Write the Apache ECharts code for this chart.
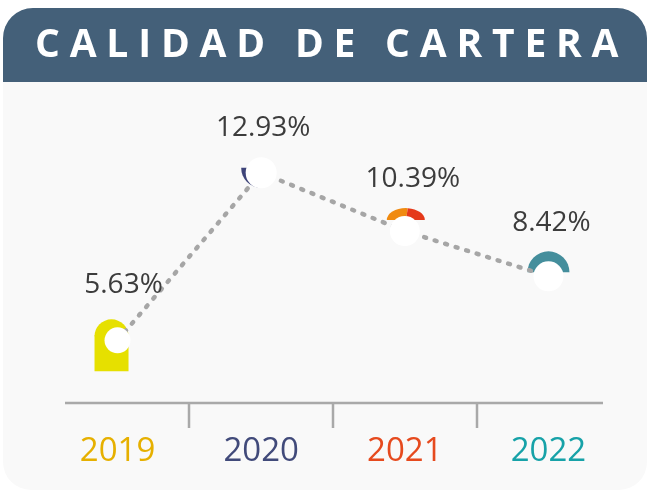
<!DOCTYPE html>
<html>
<head>
<meta charset="utf-8">
<script src="https://cdn.jsdelivr.net/npm/echarts@6/dist/echarts.min.js"></script>
<style>
  html, body { margin: 0; padding: 0; background: #ffffff; }
  #wrap { position: relative; width: 648px; height: 491px; }
  #main { position: absolute; left: 0; top: 0; width: 648px; height: 491px; }
  #title {
    position: absolute; left: 35px; top: 22px; z-index: 2;
    font-family: 'Open Sans', sans-serif; font-weight: 700; font-size: 39px;
    line-height: 39px; letter-spacing: 9.8px; color: #ffffff; white-space: nowrap;
  }
</style>
</head>
<body>
<div id="wrap">
  <div id="main"></div>
  <div id="title">CALIDAD DE CARTERA</div>
</div>
<script>
// datos
var categories = ['2019', '2020', '2021', '2022'];
var values = [5.63, 12.93, 10.39, 8.42];
var yMin = 2.9, yMax = 16.1;

// estilos
var yearColors = ['#e6b000', '#414a7a', '#e64a1e', '#17a2a8'];
var markerSizes = [26, 31, 30, 30];
var labelOffsets = [[6, -28], [2, -15], [8, -23], [3, -24]];

var myChart = echarts.init(document.getElementById('main'));

// formas de color detras de cada punto
function renderDeco(params, api) {
	var i = params.dataIndex;
	var p = api.coord([api.value(0), api.value(1)]);
	var x = p[0], y = p[1];
	var PI = Math.PI;
	if (i === 0) {
		return {
			type: 'group',
			children: [
				{ type: 'rect', shape: { x: x - 23, y: y - 5, width: 34, height: 36 }, style: { fill: '#e6e000' } },
				{ type: 'sector', shape: { cx: x - 6, cy: y - 4, r: 17, startAngle: PI, endAngle: 2 * PI }, style: { fill: '#e6e000' } }
			]
		};
	}
	if (i === 1) {
		return { type: 'sector', shape: { cx: x, cy: y - 5, r: 20, startAngle: PI / 2, endAngle: PI }, style: { fill: '#3e4479' } };
	}
	if (i === 2) {
		var split = 2 * PI - Math.acos(2 / 19);
		return {
			type: 'group',
			x: x + 1, y: y - 11, scaleY: 12 / 19,
			children: [
				{ type: 'sector', shape: { cx: 0, cy: 0, r: 19, startAngle: PI, endAngle: split }, style: { fill: '#f08a10' } },
				{ type: 'sector', shape: { cx: 0, cy: 0, r: 19, startAngle: split, endAngle: 2 * PI }, style: { fill: '#e5391a' } }
			]
		};
	}
	return { type: 'sector', shape: { cx: x, cy: y - 4, r: 21, startAngle: PI, endAngle: 2 * PI }, style: { fill: '#448e9c' } };
}

var option = {
	animation: false,
	grid: { left: 45.7, right: 27.7, top: 100, bottom: 88 },
	graphic: [
		{ type: 'rect', z: -10, shape: { x: 3, y: 82, width: 644, height: 408, r: [0, 0, 28, 28] }, style: { fill: '#f9f9f9' } },
		{ type: 'rect', z: -10, shape: { x: 3, y: 8, width: 644, height: 74, r: [30, 30, 0, 0] }, style: { fill: '#446079' } }
	],
	xAxis: {
		type: 'category',
		data: categories,
		boundaryGap: true,
		axisLine: { show: false },
		axisTick: { show: false },
		axisLabel: {
			margin: 32,
			fontSize: 33,
			fontFamily: 'Open Sans',
			color: function (val, idx) { return yearColors[idx]; }
		}
	},
	yAxis: {
		type: 'value',
		min: yMin,
		max: yMax,
		show: false,
		splitLine: { show: false }
	},
	series: [
		{
			type: 'custom',
			z: 1,
			silent: true,
			renderItem: renderDeco,
			data: values.map(function (v, i) { return [i, v]; })
		},
		{
			type: 'line',
			z: 2,
			symbol: 'circle',
			itemStyle: { color: '#ffffff', borderWidth: 0 },
			lineStyle: { color: '#a6a6a6', width: 4.5, type: [2, 9], cap: 'round' },
			label: {
				show: true,
				position: 'top',
				distance: 0,
				formatter: '{c}%',
				fontSize: 28,
				fontFamily: 'Open Sans',
				color: '#3c3c3c'
			},
			emphasis: { disabled: true },
			data: values.map(function (v, i) {
				return { value: v, symbolSize: markerSizes[i], label: { offset: labelOffsets[i] } };
			})
		}
	]
};

myChart.setOption(option);

// eje horizontal y marcas entre categorias
var y0 = myChart.convertToPixel({ yAxisIndex: 0 }, yMin);
var xs = categories.map(function (c) { return myChart.convertToPixel({ xAxisIndex: 0 }, c); });
var extra = [{ type: 'line', shape: { x1: 65, y1: y0, x2: 603, y2: y0 }, style: { stroke: '#a9a9a9', lineWidth: 2.5 } }];
for (var k = 0; k < xs.length - 1; k++) {
	var tx = Math.round((xs[k] + xs[k + 1]) / 2);
	extra.push({ type: 'line', shape: { x1: tx, y1: y0, x2: tx, y2: y0 + 25 }, style: { stroke: '#a9a9a9', lineWidth: 2.5 } });
}
myChart.setOption({ graphic: option.graphic.concat(extra) });

window.onresize = myChart.resize;
</script>
</body>
</html>
